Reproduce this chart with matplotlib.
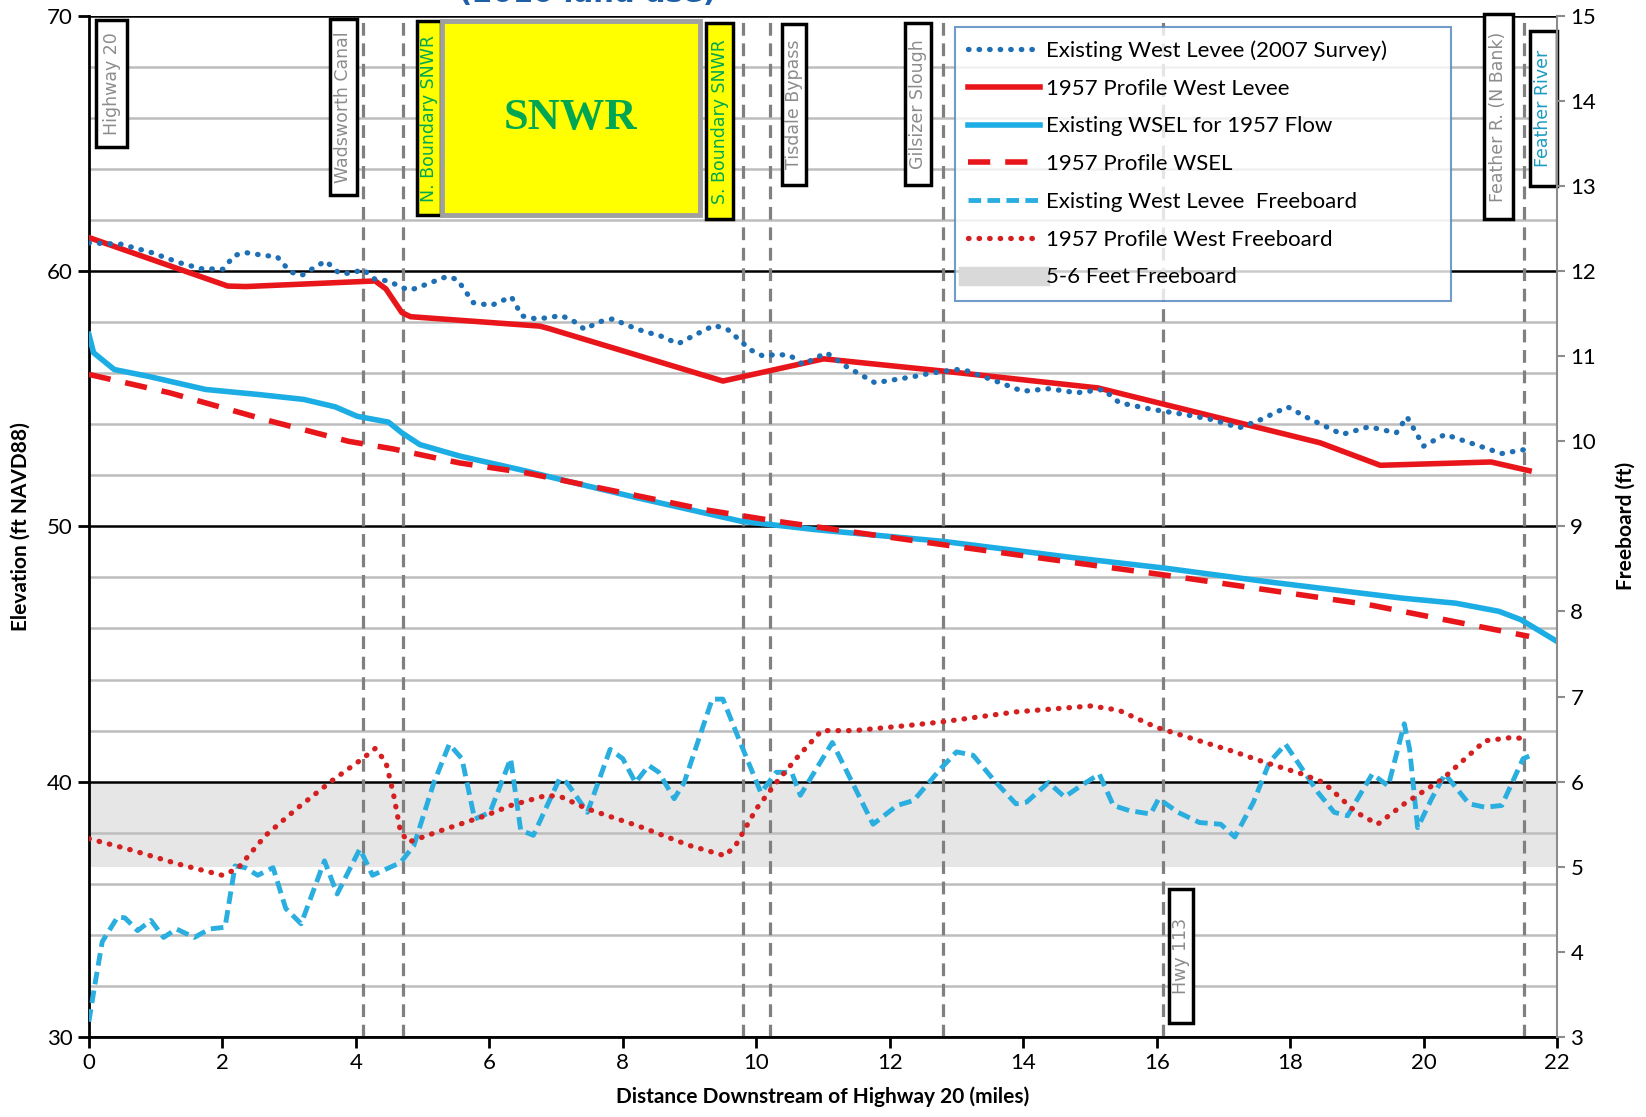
import matplotlib
matplotlib.use("Agg")
import matplotlib.pyplot as plt
from matplotlib.patches import Rectangle
from matplotlib.lines import Line2D
from matplotlib.transforms import blended_transform_factory

plt.rcParams['font.family'] = ['Lato', 'DejaVu Sans']

# existing west levee (2007 survey)
levee_x = [0, 0.48, 0.94, 1.35, 1.68, 2.01, 2.18, 2.35, 2.62, 2.82, 3.02, 3.19, 3.42, 3.55, 3.75, 3.95,
           4.1, 4.29, 4.49, 4.69, 4.82, 5.06, 5.36, 5.52, 5.76, 6.03, 6.33, 6.49, 6.69, 6.9, 7.06, 7.23,
           7.43, 7.63, 7.86, 8.03, 8.3, 8.57, 8.83, 9.1, 9.37, 9.57, 9.77, 9.9, 10.1, 10.3, 10.5, 10.7,
           11.05, 11.34, 11.78, 12.35, 12.6, 13.0, 13.17, 13.66, 13.99, 14.39, 14.8, 15.2, 15.44, 15.93,
           16.42, 16.83, 17.24, 17.56, 17.96, 18.29, 18.78, 19.18, 19.59, 19.75, 20.0, 20.32, 20.73, 21.17, 21.5]
levee_y = [61.1, 61.05, 60.72, 60.33, 60.09, 60.07, 60.61, 60.72, 60.61, 60.56, 59.96, 59.83, 60.2, 60.39,
           59.91, 59.91, 60.07, 59.67, 59.61, 59.35, 59.25, 59.48, 59.78, 59.67, 58.76, 58.65, 58.99, 58.24,
           58.13, 58.17, 58.26, 58.1, 57.71, 58.0, 58.13, 57.91, 57.65, 57.45, 57.15, 57.52, 57.87, 57.71,
           57.25, 56.93, 56.67, 56.73, 56.7, 56.34, 56.8, 56.27, 55.62, 55.86, 55.99, 56.14, 56.08, 55.62,
           55.29, 55.39, 55.23, 55.36, 54.84, 54.58, 54.38, 54.18, 53.86, 54.18, 54.68, 54.21, 53.6, 53.9,
           53.66, 54.29, 53.14, 53.6, 53.24, 52.85, 53.0]

# 1957 profile west levee
prof_levee_x = [0, 2.08, 2.35, 4.29, 4.45, 4.69, 4.82, 6.76, 6.9, 9.5, 11.01, 12.8, 15.12, 18.45, 19.35, 21.01, 21.58]
prof_levee_y = [61.31, 59.41, 59.39, 59.61, 59.3, 58.37, 58.21, 57.84, 57.74, 55.69, 56.56, 56.08, 55.42,
                53.27, 52.39, 52.52, 52.18]

# existing WSEL for 1957 flow
wsel_x = [0, 0.07, 0.38, 0.88, 1.75, 2.55, 3.22, 3.69, 4.02, 4.49, 4.69, 4.96, 5.56, 6.56, 7.23, 8.23,
          9.23, 9.77, 10.89, 12.8, 14.79, 16.1, 17.63, 19.67, 20.48, 21.13, 21.46, 22.0]
wsel_y = [57.52, 56.8, 56.14, 55.88, 55.36, 55.16, 54.97, 54.68, 54.31, 54.08, 53.66, 53.2, 52.75, 52.16,
          51.73, 51.11, 50.52, 50.2, 49.87, 49.41, 48.76, 48.37, 47.84, 47.19, 46.99, 46.67, 46.34, 45.49]

# 1957 profile WSEL
prof_wsel_x = [0, 1.21, 2.68, 3.89, 4.56, 5.56, 6.56, 7.9, 9.23, 10.3, 12.8, 16.1, 19.18, 21.58]
prof_wsel_y = [55.95, 55.23, 54.15, 53.33, 53.03, 52.48, 52.09, 51.37, 50.65, 50.2, 49.28, 48.1, 46.93, 45.69]

# existing west levee freeboard (right axis)
fb_x = [0, 0.08, 0.2, 0.43, 0.54, 0.73, 0.93, 1.12, 1.31, 1.58, 1.81, 2.04, 2.19, 2.34, 2.53, 2.76, 2.95,
        3.18, 3.53, 3.72, 4.06, 4.25, 4.67, 4.87, 5.17, 5.4, 5.59, 5.78, 6.01, 6.32, 6.47, 6.66, 7.05, 7.16,
        7.47, 7.81, 8.0, 8.19, 8.39, 8.54, 8.77, 8.92, 9.34, 9.5, 9.76, 10.07, 10.3, 10.53, 10.66, 10.9,
        11.14, 11.75, 12.11, 12.36, 12.76, 13.0, 13.25, 13.57, 13.89, 14.05, 14.38, 14.62, 14.86, 15.14,
        15.35, 15.59, 15.91, 16.03, 16.32, 16.64, 16.96, 17.17, 17.45, 17.69, 17.93, 18.18, 18.42, 18.66,
        18.86, 19.23, 19.47, 19.71, 19.79, 19.91, 20.12, 20.32, 20.68, 20.92, 21.17, 21.49, 21.61]
fb_y = [3.18, 3.57, 4.12, 4.41, 4.4, 4.25, 4.37, 4.17, 4.27, 4.17, 4.27, 4.29, 5.01, 4.99, 4.9, 4.99, 4.51,
        4.33, 5.07, 4.68, 5.21, 4.9, 5.05, 5.25, 5.99, 6.44, 6.27, 5.56, 5.64, 6.27, 5.43, 5.37, 6.03, 5.99,
        5.64, 6.38, 6.27, 5.99, 6.19, 6.11, 5.8, 5.99, 6.97, 6.97, 6.46, 5.87, 6.11, 6.11, 5.84, 6.15,
        6.46, 5.5, 5.72, 5.78, 6.15, 6.35, 6.31, 6.01, 5.74, 5.76, 5.99, 5.82, 5.95, 6.09,
        5.72, 5.66, 5.62, 5.8, 5.64, 5.52, 5.5, 5.35, 5.76, 6.23, 6.44, 6.15, 5.87, 5.64,
        5.6, 6.09, 5.95, 6.68, 6.38, 5.46, 5.8, 6.09, 5.74, 5.7, 5.72, 6.27, 6.31]

# 1957 profile west freeboard (right axis)
prof_fb_x = [0, 0.58, 1.35, 2.0, 2.23, 2.65, 3.11, 3.64, 4.1, 4.29, 4.45, 4.56, 4.67, 4.79, 5.33, 5.94, 6.32,
             6.86, 7.08, 7.47, 8.23, 9.0, 9.53, 9.69, 10.0, 10.3, 10.64, 10.98, 11.47, 12.27, 12.76, 13.89,
             15.02, 15.43, 15.99, 16.64, 17.13, 17.61, 18.18, 18.5, 18.99, 19.31, 19.71, 20.28, 20.92, 21.33, 21.57]
prof_fb_y = [5.33, 5.21, 5.03, 4.9, 4.98, 5.37, 5.68, 6.01, 6.27, 6.39, 6.23, 5.87, 5.41, 5.29, 5.44, 5.6, 5.72,
             5.84, 5.82, 5.68, 5.48, 5.25, 5.13, 5.25, 5.68, 5.99, 6.31, 6.6, 6.6, 6.66, 6.7, 6.82,
             6.89, 6.84, 6.64, 6.48, 6.36, 6.23, 6.09, 5.99, 5.64, 5.5, 5.74, 6.03, 6.48, 6.52, 6.5]

marker_x = [4.1, 4.7, 9.8, 10.2, 12.8, 16.1, 21.5]
band_lo, band_hi = 5, 6

fig = plt.figure(figsize=(16.46, 11.17), dpi=100)
ax = fig.add_axes([0.054, 0.0716, 0.892, 0.9144])
ax2 = ax.twinx()

ax.set_xlim(0, 22)
ax.set_ylim(30, 70)
ax2.set_ylim(3, 15)

# grid
ax.set_axisbelow(True)
ax.set_yticks(range(30, 71, 10))
ax.set_yticks(range(32, 70, 2), minor=True)
ax.grid(which='major', axis='y', color='black', lw=1.8)
ax.grid(which='minor', axis='y', color='#bdbdbd', lw=1.8)
ax.tick_params(axis='y', which='minor', length=0)
ax.set_xticks(range(0, 23, 2))

# freeboard band
tr = blended_transform_factory(ax.transAxes, ax2.transData)
ax.add_patch(Rectangle((0, band_lo), 1, band_hi - band_lo, transform=tr, facecolor='#e6e6e6',
                       edgecolor='none', zorder=0.3))

for xv in marker_x:
    ax.axvline(xv, color='#808080', lw=2.3, ls=(0, (4, 2.4)), zorder=1.5)

# elevation lines
ax.plot(wsel_x, wsel_y, color='#1cade4', lw=4, zorder=3)
ax.plot(prof_wsel_x, prof_wsel_y, color='#e8161b', lw=4, ls=(0, (4, 2.7)), zorder=3.2)
ax.plot(prof_levee_x, prof_levee_y, color='#e8161b', lw=4, zorder=3.1)
ax.plot(levee_x, levee_y, color='#1f6fb4', lw=3.8, ls=(0, (0.1, 1.9)), dash_capstyle='round', zorder=3.3)

# freeboard lines
ax2.plot(fb_x, fb_y, color='#2aaee0', lw=3.5, ls=(0, (2.6, 1.3)), zorder=3)
ax2.plot(prof_fb_x, prof_fb_y, color='#d42020', lw=3.8, ls=(0, (0.1, 1.9)), dash_capstyle='round', zorder=3.1)


def label_box(x0, x1, y0, y1, text, face='white', edge='black', tcolor='#8c8c8c', size=12.5, lw=2.5):
    ax.add_patch(Rectangle((x0, y0), x1 - x0, y1 - y0, facecolor=face, edgecolor=edge, lw=lw,
                           zorder=4, clip_on=False))
    ax.text((x0 + x1) / 2, (y0 + y1) / 2, text, rotation=90, ha='center', va='center', color=tcolor,
            fontsize=size, family='DejaVu Sans', zorder=5)


label_box(0.11, 0.57, 64.86, 69.84, 'Highway 20')
label_box(3.62, 4.01, 62.97, 69.88, 'Wadsworth Canal')
label_box(4.91, 5.27, 62.19, 69.79, 'N. Boundary SNWR', face='yellow', tcolor='#00a651')
label_box(9.25, 9.65, 62.02, 69.71, 'S. Boundary SNWR', face='yellow', tcolor='#00a651')
label_box(10.39, 10.75, 63.38, 69.67, 'Tisdale Bypass')
label_box(12.23, 12.62, 63.38, 69.71, 'Gilsizer Slough')
label_box(20.9, 21.34, 62.02, 70.08, 'Feather R. (N Bank)')
label_box(21.59, 22.0, 63.34, 69.38, 'Feather River', tcolor='#1b9cc0')
label_box(16.18, 16.55, 30.53, 35.8, 'Hwy 113')
ax.add_patch(Rectangle((5.29, 62.19), 9.16 - 5.29, 69.79 - 62.19, facecolor='yellow', edgecolor='#a0a0a0',
                       lw=3.5, zorder=4))
ax.text(7.22, 66.0, 'SNWR', ha='center', va='center', color='#00a651', fontsize=32, fontweight='bold',
        family='Liberation Serif', zorder=5)

# spines and ticks
for s in ['top', 'right']:
    ax.spines[s].set_visible(False)
ax.spines['left'].set_linewidth(2)
ax.spines['bottom'].set_linewidth(2)
for s in ['top', 'left', 'bottom']:
    ax2.spines[s].set_visible(False)
ax2.spines['right'].set_color('#8c8c8c')
ax2.spines['right'].set_linewidth(1.5)
ax.tick_params(axis='both', which='major', labelsize=16, width=2, length=8)
ax2.tick_params(axis='y', labelsize=16, color='#8c8c8c', width=1.5, length=6)
ax2.set_yticks(range(3, 16))

ax.set_ylabel('Elevation (ft NAVD88)', fontsize=15, fontweight='bold', labelpad=12)
ax2.set_ylabel('Freeboard (ft)', fontsize=15, fontweight='bold', labelpad=14)
ax.set_xlabel('Distance Downstream of Highway 20 (miles)', fontsize=15, fontweight='bold', labelpad=10)

fig.text(0.357, 1.005, '(2010 land use)', ha='center', va='center', color='#1f5fa8', fontsize=21,
         fontweight='bold', family='DejaVu Sans')

handles = [
    Line2D([], [], color='#1f6fb4', lw=3.8, ls=(0, (0.1, 1.9)), dash_capstyle='round'),
    Line2D([], [], color='#e8161b', lw=4),
    Line2D([], [], color='#1cade4', lw=4),
    Line2D([], [], color='#e8161b', lw=4, ls=(0, (4, 2.7))),
    Line2D([], [], color='#2aaee0', lw=3.5, ls=(0, (2.6, 1.3))),
    Line2D([], [], color='#d42020', lw=3.8, ls=(0, (0.1, 1.9)), dash_capstyle='round'),
    Line2D([], [], color='#d9d9d9', lw=14),
]
labels = ['Existing West Levee (2007 Survey)', '1957 Profile West Levee', 'Existing WSEL for 1957 Flow',
          '1957 Profile WSEL', 'Existing West Levee  Freeboard', '1957 Profile West Freeboard',
          '5-6 Feet Freeboard']
leg = ax2.legend(handles, labels, loc='upper left', bbox_to_anchor=(0.59, 0.725, 0.338, 0.264),
                 mode='expand', fontsize=16, frameon=True, fancybox=False, handlelength=3.2,
                 handletextpad=0.3, labelspacing=0.8, borderpad=0.6, borderaxespad=0)
leg.get_frame().set_edgecolor('#4f81bd')
leg.get_frame().set_linewidth(1.5)
leg.set_zorder(10)

fig.savefig('out.png', dpi=100)
